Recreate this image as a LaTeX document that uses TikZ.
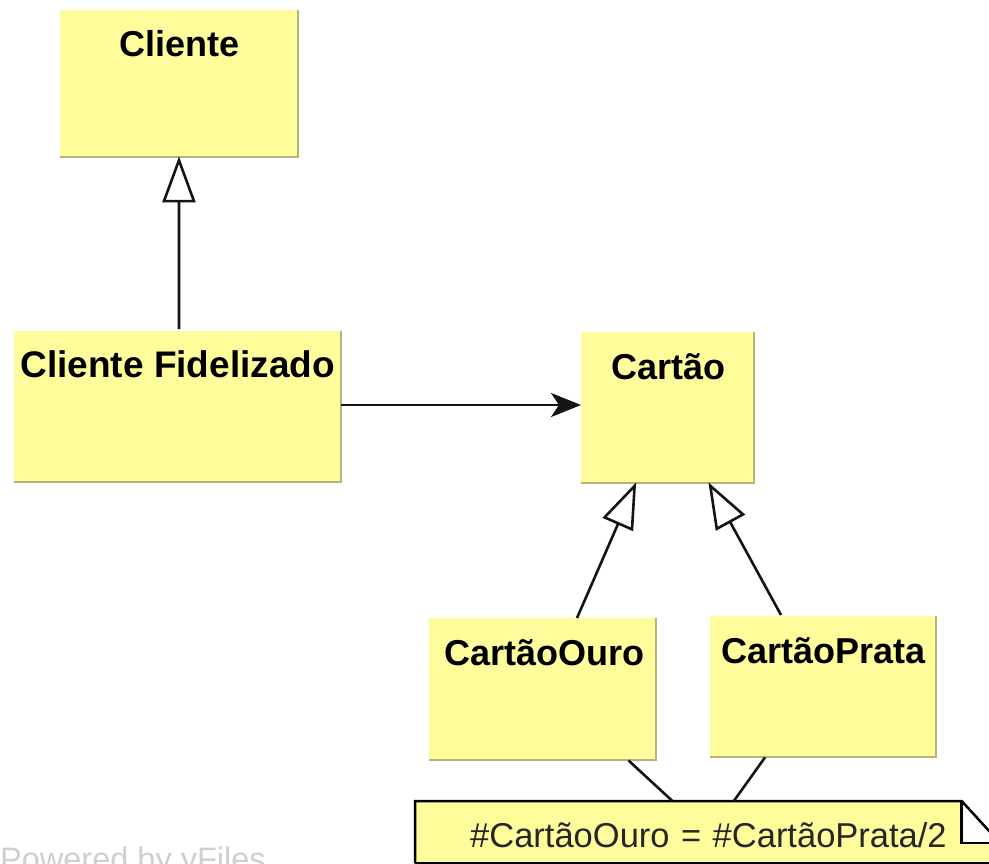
\documentclass[tikz,border=0pt]{standalone}
\usepackage{fontspec}
\setmainfont{Liberation Sans}
\usetikzlibrary{arrows.meta,calc}
\definecolor{boxfill}{HTML}{FFFC9C}
\definecolor{boxedge}{HTML}{B5B27A}
\definecolor{wmark}{HTML}{CFCFCF}
\definecolor{inkc}{HTML}{141414}
\tikzset{
  classbox/.style={fill=boxfill,draw=none,inner sep=0pt,anchor=north west,align=center,
    font=\fontsize{36}{40}\selectfont\bfseries,text=black},
  edgeline/.style={draw=boxedge,line width=2pt},
  conn/.style={draw=inkc,line width=2.6pt},
  hollow/.style={conn,-{Triangle[open,fill=white,length=46pt,width=33pt,line width=2.6pt]}},
  navig/.style={conn,-{Stealth[length=30pt,width=24pt,inset=8pt]}},
  notebox/.style={fill=boxfill,draw=none,inner sep=0pt,anchor=north west},
  noteline/.style={draw=black,line width=2.5pt,line join=miter},
  watermark/.style={text=wmark,font=\fontsize{32.5}{36}\selectfont,inner sep=0pt,anchor=base west}
}
\begin{document}
\begin{tikzpicture}[x=1pt,y=-1pt]
\useasboundingbox (0,0) rectangle (989,864);
\clip (0,0) rectangle (989,864);
\fill[white] (0,0) rectangle (989,864);
% classes: text height = distance top-baseline, text depth = baseline-bottom
\node[classbox,minimum width=238pt,text height=46pt,text depth=101pt] (cliente) at (60,10) {Cliente};
\node[classbox,minimum width=327pt,text height=46pt,text depth=105pt] (fidel) at (14,331) {\fontsize{37}{40}\selectfont Cliente Fidelizado};
\node[classbox,minimum width=173pt,text height=47pt,text depth=104pt] (cartao) at (581,332) {\hspace*{2pt}Cartão};
\node[classbox,minimum width=227pt,text height=47pt,text depth=95pt] (ouro) at (429,618) {\hspace*{4pt}CartãoOuro};
\node[classbox,minimum width=226pt,text height=47pt,text depth=94pt] (prata) at (710,616) {\hspace*{1pt}CartãoPrata};
% shaded lower and right edges
\draw[edgeline] (cliente.south west) -- (cliente.south east) -- (cliente.north east);
\draw[edgeline] (fidel.south west) -- (fidel.south east) -- (fidel.north east);
\draw[edgeline] (cartao.south west) -- (cartao.south east) -- (cartao.north east);
\draw[edgeline] (ouro.south west) -- (ouro.south east) -- (ouro.north east);
\draw[edgeline] (prata.south west) -- (prata.south east) -- (prata.north east);
% note
\node[notebox,minimum width=590pt,
      font=\fontsize{34.5}{38}\selectfont,text=black!85,
      text width=590pt,align=left,text height=46pt,text depth=16pt] (note) at (415,801)
      {\hspace*{55pt}\#CartãoOuro = \#CartãoPrata/2};
\coordinate (foldtop) at ($(note.north west)!0.926!(note.north east)$);
\coordinate (foldin) at ($(foldtop)+(0,42)$);
\coordinate (foldright) at ($(foldin)+(42,0)$);
\coordinate (foldout) at ($(foldtop)+(42,46)$);
\fill[white] (foldtop) -- (foldin) -- (foldright) -- (foldout) -- cycle;
\fill[white] (foldtop) -- ($(foldtop)+(42,-3)$) -- (foldout) -- cycle;
\draw[noteline] (note.south west) -- (note.north west) -- (foldtop) -- (foldout);
\draw[noteline] (foldtop) -- (foldin) -- (foldright);
\draw[noteline] (note.south west) -- (note.south east);
% connectors
\draw[hollow] ($(fidel.north west)!0.504!(fidel.north east)+(0,-2)$) -- ($(cliente.south west)!0.499!(cliente.south east)+(0,-1)$);
\draw[navig] (fidel.east |- 0,405) -- (cartao.west |- 0,405);
\draw[hollow] (ouro.north west)+(148,0) -- ($(cartao.south west)!0.318!(cartao.south east)+(0,-1)$);
\draw[hollow] (prata.north west)+(71,-1) -- ($(cartao.south west)!0.735!(cartao.south east)+(0,-1)$);
\draw[conn] ($(ouro.south west)!0.877!(ouro.south east)$) -- ($(note.north west)!0.436!(note.north east)$);
\draw[conn] ($(prata.south west)!0.243!(prata.south east)$) -- ($(note.north west)!0.54!(note.north east)$);
% watermark
\node[watermark] (wm) at (0,870) {Powered by yFiles};
\end{tikzpicture}
\end{document}
